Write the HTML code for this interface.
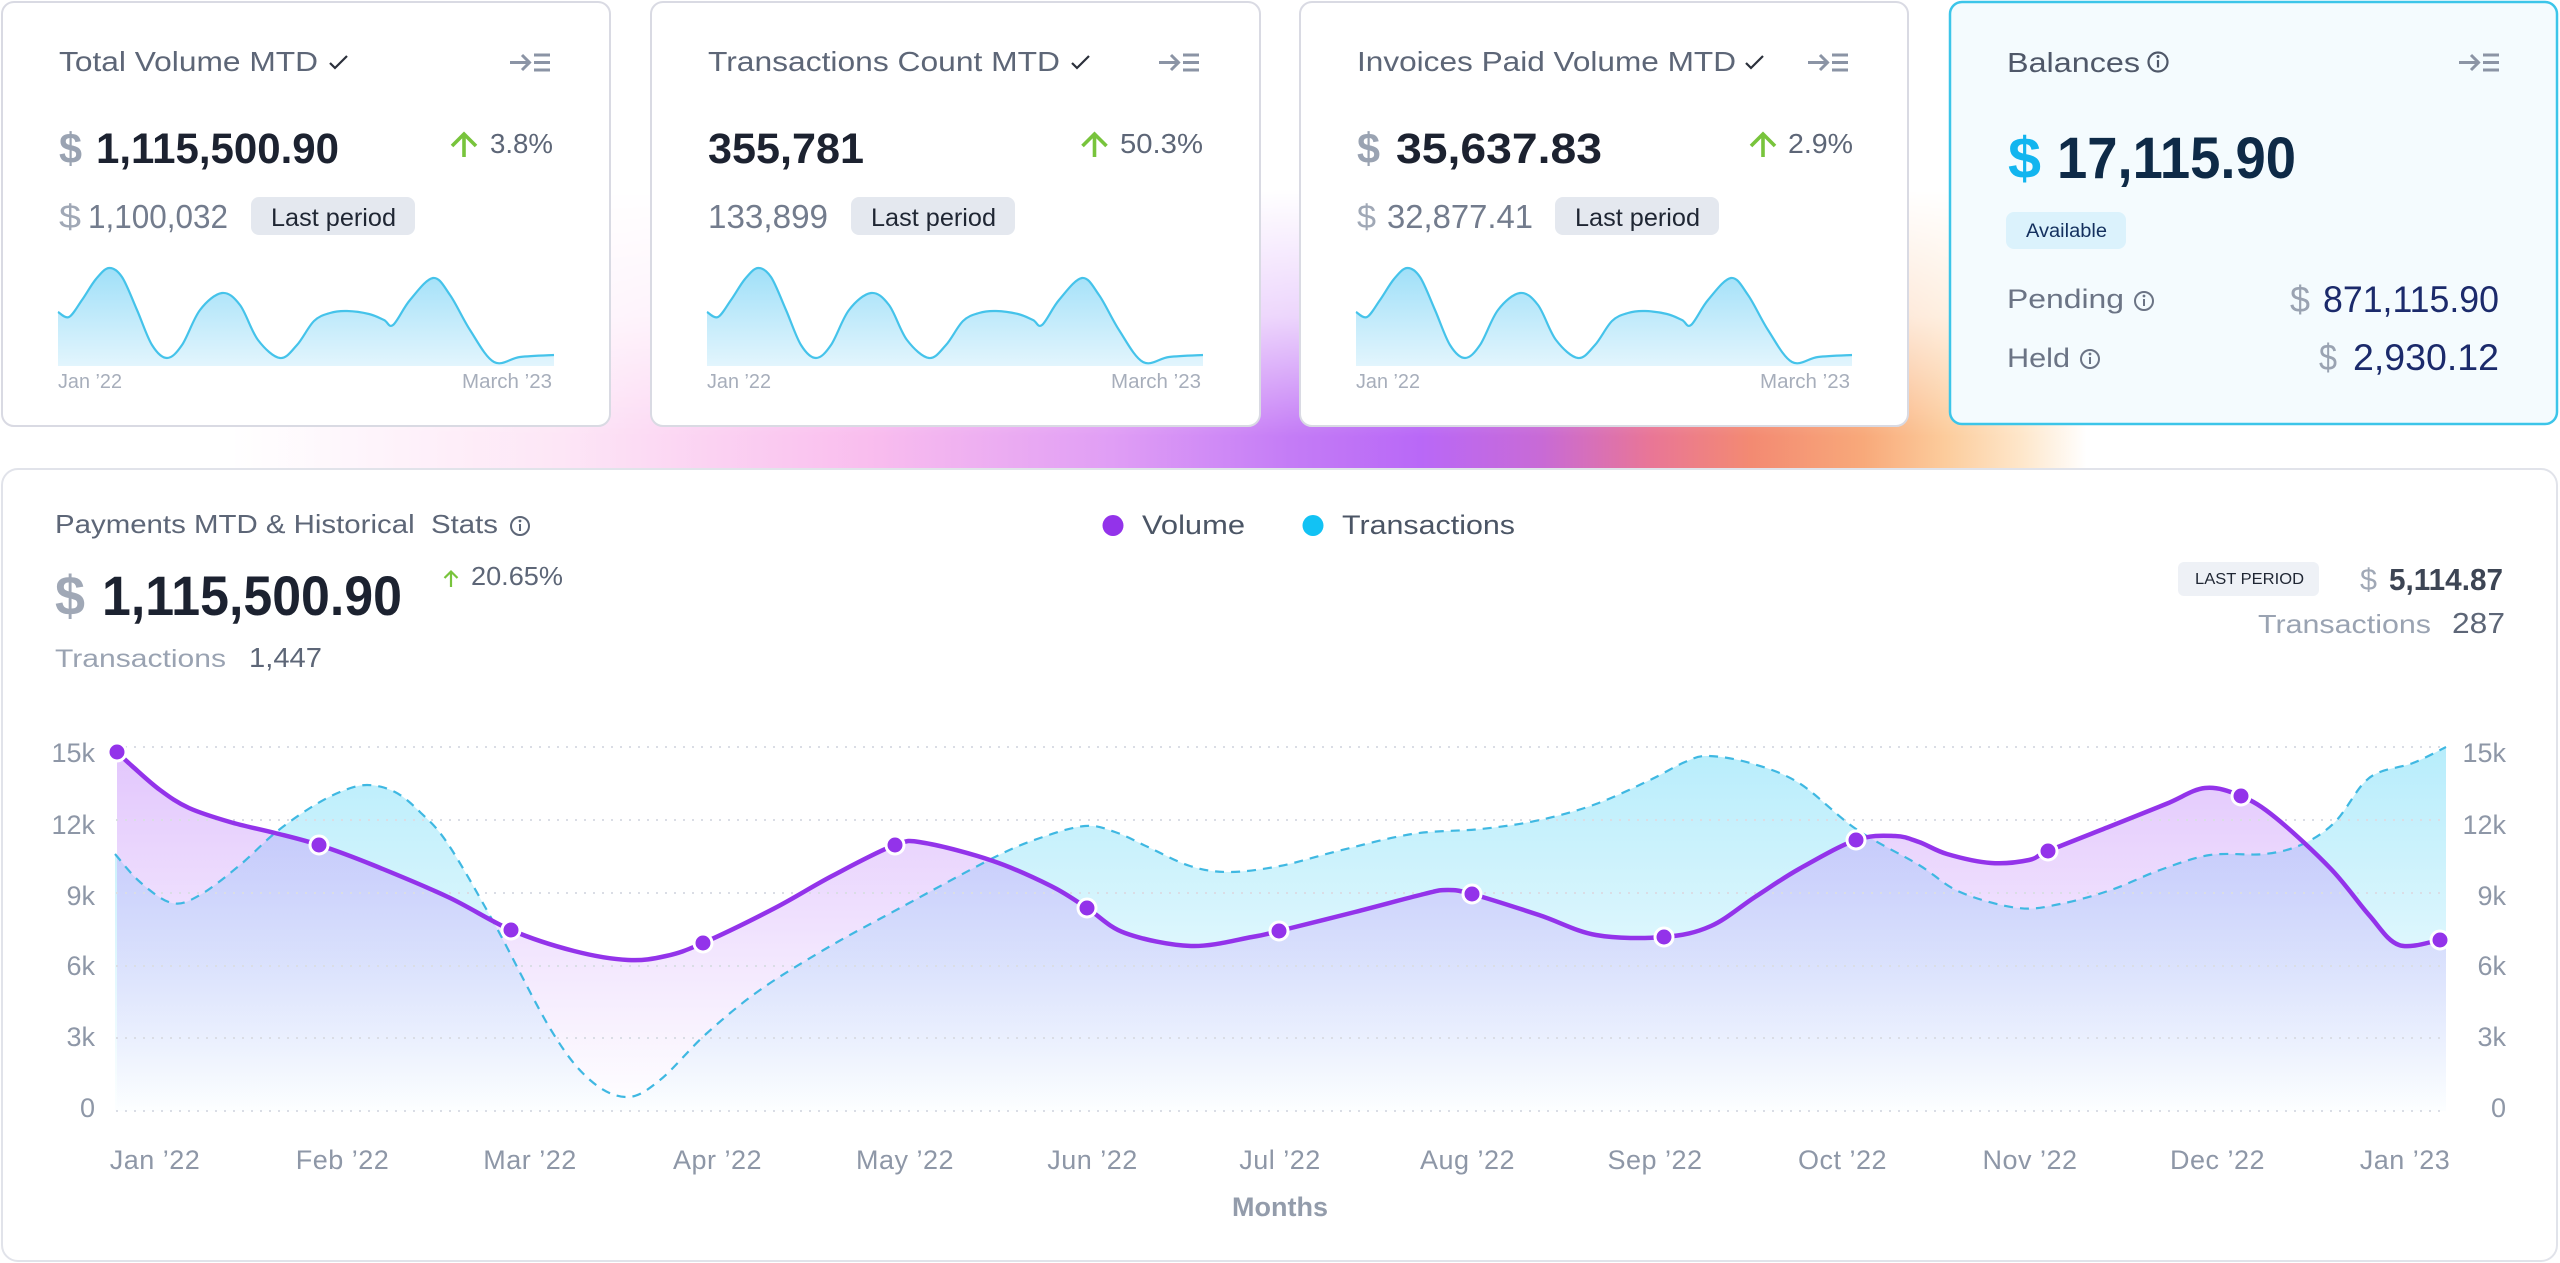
<!DOCTYPE html>
<html><head><meta charset="utf-8"><title>Payments Dashboard</title>
<style>
html,body{margin:0;padding:0;background:#ffffff;width:2560px;height:1263px;overflow:hidden;}
svg{display:block;}
text{font-family:"Liberation Sans",Arial,sans-serif;}
.b{font-weight:bold;}
</style></head><body>
<svg width="2560" height="1263" viewBox="0 0 2560 1263" xmlns="http://www.w3.org/2000/svg">
<defs>
<linearGradient id="gH" gradientUnits="userSpaceOnUse" x1="0" y1="0" x2="2560" y2="0">
<stop offset="0.09" stop-color="#ffffff"/>
<stop offset="0.219" stop-color="#fde6f6"/>
<stop offset="0.340" stop-color="#f9bdee"/>
<stop offset="0.434" stop-color="#e09ef5"/>
<stop offset="0.504" stop-color="#c47cf6"/>
<stop offset="0.555" stop-color="#b968f7"/>
<stop offset="0.602" stop-color="#c86ad6"/>
<stop offset="0.645" stop-color="#e97696"/>
<stop offset="0.684" stop-color="#f38a72"/>
<stop offset="0.728" stop-color="#f8a97a"/>
<stop offset="0.760" stop-color="#fccc9c"/>
<stop offset="0.790" stop-color="#fee7cb"/>
<stop offset="0.815" stop-color="#ffffff"/>
</linearGradient>
<linearGradient id="gV" gradientUnits="userSpaceOnUse" x1="0" y1="190" x2="0" y2="470">
<stop offset="0" stop-color="#000000"/>
<stop offset="0.45" stop-color="#505050"/>
<stop offset="0.88" stop-color="#ffffff"/>
<stop offset="1" stop-color="#ffffff"/>
</linearGradient>
<mask id="mG" maskUnits="userSpaceOnUse" x="0" y="180" width="2560" height="300">
<rect x="0" y="180" width="2560" height="300" fill="url(#gV)"/>
</mask>
<linearGradient id="gS" gradientUnits="userSpaceOnUse" x1="0" y1="265" x2="0" y2="366">
<stop offset="0" stop-color="#9edff8"/>
<stop offset="1" stop-color="#e2f5fd"/>
</linearGradient>
<linearGradient id="gT" gradientUnits="userSpaceOnUse" x1="0" y1="747" x2="0" y2="1111">
<stop offset="0" stop-color="#7ddef8" stop-opacity="0.55"/>
<stop offset="1" stop-color="#7ddef8" stop-opacity="0.02"/>
</linearGradient>
<linearGradient id="gVo" gradientUnits="userSpaceOnUse" x1="0" y1="747" x2="0" y2="1111">
<stop offset="0" stop-color="#c48cfa" stop-opacity="0.5"/>
<stop offset="1" stop-color="#c48cfa" stop-opacity="0"/>
</linearGradient>
</defs>

<!-- glow -->
<rect x="0" y="180" width="2560" height="300" fill="url(#gH)" mask="url(#mG)"/>

<!-- top cards -->
<rect x="2" y="2" width="608" height="424" rx="12" fill="#ffffff" stroke="#d9dae3" stroke-width="2"/>
<rect x="651" y="2" width="609" height="424" rx="12" fill="#ffffff" stroke="#d9dae3" stroke-width="2"/>
<rect x="1300" y="2" width="608" height="424" rx="12" fill="#ffffff" stroke="#d9dae3" stroke-width="2"/>
<rect x="1950" y="2" width="607" height="422" rx="12" fill="#f4fbfe" stroke="#3cc5e9" stroke-width="2.5"/>

<!-- big card -->
<rect x="2" y="469" width="2555" height="792" rx="16" fill="#ffffff" stroke="#e1e3ea" stroke-width="2"/>

<!-- header icons -->
<g stroke="#8b94a5" stroke-width="3" fill="none">
<path d="M510,62.5 H529 M522,55 L529.5,62.5 L522,70 M534,55 H550 M534,62.5 H550 M534,70 H550"/>
<path transform="translate(649,0)" d="M510,62.5 H529 M522,55 L529.5,62.5 L522,70 M534,55 H550 M534,62.5 H550 M534,70 H550"/>
<path transform="translate(1298,0)" d="M510,62.5 H529 M522,55 L529.5,62.5 L522,70 M534,55 H550 M534,62.5 H550 M534,70 H550"/>
<path transform="translate(1949,0)" d="M510,62.5 H529 M522,55 L529.5,62.5 L522,70 M534,55 H550 M534,62.5 H550 M534,70 H550"/>
</g>

<!-- check marks -->
<g stroke="#2b303b" stroke-width="2.2" fill="none">
<path d="M330,63 l5,5 l12,-12"/>
<path d="M1072,63 l5,5 l12,-12"/>
<path d="M1746,63 l5,5 l12,-12"/>
</g>

<!-- green arrows -->
<g stroke="#78c43c" stroke-width="3.6" fill="none">
<path d="M464,157 V135 M452,146 L464,134 L476,146"/>
<path d="M1094.5,157 V135 M1082.5,146 L1094.5,134 L1106.5,146"/>
<path d="M1763,157 V135 M1751,146 L1763,134 L1775,146"/>
</g>

<!-- CARD 1 -->
<text x="59" y="71" font-size="28" fill="#5d6677" textLength="259" lengthAdjust="spacingAndGlyphs">Total Volume MTD</text>
<text x="59" y="163" font-size="43" class="b" fill="#9aa3b2" textLength="23" lengthAdjust="spacingAndGlyphs">$</text>
<text x="96" y="163" font-size="43" class="b" fill="#1c2230" textLength="243" lengthAdjust="spacingAndGlyphs">1,115,500.90</text>
<text x="490" y="153" font-size="28" fill="#5d6677" textLength="63" lengthAdjust="spacingAndGlyphs">3.8%</text>
<text x="59" y="228" font-size="33" fill="#a0a8b6" textLength="22" lengthAdjust="spacingAndGlyphs">$</text>
<text x="88" y="228" font-size="33" fill="#737c8d" textLength="140" lengthAdjust="spacingAndGlyphs">1,100,032</text>
<rect x="251" y="197" width="164" height="38" rx="8" fill="#e4e8ef"/>
<text x="271" y="226" font-size="25" fill="#1f2633" textLength="125" lengthAdjust="spacingAndGlyphs">Last period</text>
<text x="58" y="388" font-size="20" fill="#a7aebb" textLength="64" lengthAdjust="spacingAndGlyphs">Jan &#8217;22</text>
<text x="462" y="388" font-size="20" fill="#a7aebb" textLength="90" lengthAdjust="spacingAndGlyphs">March &#8217;23</text>

<!-- CARD 2 -->
<text x="708" y="71" font-size="28" fill="#5d6677" textLength="352" lengthAdjust="spacingAndGlyphs">Transactions Count MTD</text>
<text x="708" y="163" font-size="43" class="b" fill="#1c2230" textLength="156" lengthAdjust="spacingAndGlyphs">355,781</text>
<text x="1120" y="153" font-size="28" fill="#5d6677" textLength="83" lengthAdjust="spacingAndGlyphs">50.3%</text>
<text x="708" y="228" font-size="33" fill="#737c8d" textLength="120" lengthAdjust="spacingAndGlyphs">133,899</text>
<rect x="851" y="197" width="164" height="38" rx="8" fill="#e4e8ef"/>
<text x="871" y="226" font-size="25" fill="#1f2633" textLength="125" lengthAdjust="spacingAndGlyphs">Last period</text>
<text x="707" y="388" font-size="20" fill="#a7aebb" textLength="64" lengthAdjust="spacingAndGlyphs">Jan &#8217;22</text>
<text x="1111" y="388" font-size="20" fill="#a7aebb" textLength="90" lengthAdjust="spacingAndGlyphs">March &#8217;23</text>

<!-- CARD 3 -->
<text x="1357" y="71" font-size="28" fill="#5d6677" textLength="379" lengthAdjust="spacingAndGlyphs">Invoices Paid Volume MTD</text>
<text x="1357" y="163" font-size="43" class="b" fill="#9aa3b2" textLength="23" lengthAdjust="spacingAndGlyphs">$</text>
<text x="1396" y="163" font-size="43" class="b" fill="#1c2230" textLength="206" lengthAdjust="spacingAndGlyphs">35,637.83</text>
<text x="1788" y="153" font-size="28" fill="#5d6677" textLength="65" lengthAdjust="spacingAndGlyphs">2.9%</text>
<text x="1357" y="228" font-size="33" fill="#a0a8b6" textLength="19" lengthAdjust="spacingAndGlyphs">$</text>
<text x="1387" y="228" font-size="33" fill="#737c8d" textLength="146" lengthAdjust="spacingAndGlyphs">32,877.41</text>
<rect x="1555" y="197" width="164" height="38" rx="8" fill="#e4e8ef"/>
<text x="1575" y="226" font-size="25" fill="#1f2633" textLength="125" lengthAdjust="spacingAndGlyphs">Last period</text>
<text x="1356" y="388" font-size="20" fill="#a7aebb" textLength="64" lengthAdjust="spacingAndGlyphs">Jan &#8217;22</text>
<text x="1760" y="388" font-size="20" fill="#a7aebb" textLength="90" lengthAdjust="spacingAndGlyphs">March &#8217;23</text>

<!-- sparklines -->
<g>
<path class="smf" fill="url(#gS)" d="M58,312 L69,317 L82,300 L96,279 L109,268 L122,277 L137,310 L152,345 L167,358 L182,345 L200,310 L222,293 L240,305 L258,340 L280,358 L297,345 L314,321 L330,313 L347,311 L369,314 L384,320 L393,325 L410,300 L433,278 L450,295 L470,330 L494,362 L520,357 L554,355 L554,366 L58,366 Z"/>
<path class="sm" fill="none" stroke="#45c3ea" stroke-width="2.2" d="M58,312 L69,317 L82,300 L96,279 L109,268 L122,277 L137,310 L152,345 L167,358 L182,345 L200,310 L222,293 L240,305 L258,340 L280,358 L297,345 L314,321 L330,313 L347,311 L369,314 L384,320 L393,325 L410,300 L433,278 L450,295 L470,330 L494,362 L520,357 L554,355"/>
</g>
<g transform="translate(649,0)">
<path class="smf" fill="url(#gS)" d="M58,312 L69,317 L82,300 L96,279 L109,268 L122,277 L137,310 L152,345 L167,358 L182,345 L200,310 L222,293 L240,305 L258,340 L280,358 L297,345 L314,321 L330,313 L347,311 L369,314 L384,320 L393,325 L410,300 L433,278 L450,295 L470,330 L494,362 L520,357 L554,355 L554,366 L58,366 Z"/>
<path class="sm" fill="none" stroke="#45c3ea" stroke-width="2.2" d="M58,312 L69,317 L82,300 L96,279 L109,268 L122,277 L137,310 L152,345 L167,358 L182,345 L200,310 L222,293 L240,305 L258,340 L280,358 L297,345 L314,321 L330,313 L347,311 L369,314 L384,320 L393,325 L410,300 L433,278 L450,295 L470,330 L494,362 L520,357 L554,355"/>
</g>
<g transform="translate(1298,0)">
<path class="smf" fill="url(#gS)" d="M58,312 L69,317 L82,300 L96,279 L109,268 L122,277 L137,310 L152,345 L167,358 L182,345 L200,310 L222,293 L240,305 L258,340 L280,358 L297,345 L314,321 L330,313 L347,311 L369,314 L384,320 L393,325 L410,300 L433,278 L450,295 L470,330 L494,362 L520,357 L554,355 L554,366 L58,366 Z"/>
<path class="sm" fill="none" stroke="#45c3ea" stroke-width="2.2" d="M58,312 L69,317 L82,300 L96,279 L109,268 L122,277 L137,310 L152,345 L167,358 L182,345 L200,310 L222,293 L240,305 L258,340 L280,358 L297,345 L314,321 L330,313 L347,311 L369,314 L384,320 L393,325 L410,300 L433,278 L450,295 L470,330 L494,362 L520,357 L554,355"/>
</g>

<!-- CARD 4 Balances -->
<text x="2007" y="72" font-size="28" fill="#4f5869" textLength="133" lengthAdjust="spacingAndGlyphs">Balances</text>
<g stroke="#4f5869" stroke-width="2.2" fill="none">
<circle cx="2158" cy="62" r="9.5"/>
<line x1="2158" y1="60" x2="2158" y2="67.5"/>
</g>
<circle cx="2158" cy="56.5" r="1.5" fill="#4f5869"/>
<text x="2008" y="178" font-size="58" class="b" fill="#12b5ef" textLength="33" lengthAdjust="spacingAndGlyphs">$</text>
<text x="2057" y="178" font-size="58" class="b" fill="#0e2a47" textLength="239" lengthAdjust="spacingAndGlyphs">17,115.90</text>
<rect x="2006" y="212" width="120" height="37" rx="8" fill="#dbf2fc"/>
<text x="2026" y="237" font-size="19" fill="#14305e" textLength="81" lengthAdjust="spacingAndGlyphs">Available</text>
<text x="2007" y="308" font-size="27" fill="#6b7485" textLength="117" lengthAdjust="spacingAndGlyphs">Pending</text>
<g stroke="#6b7485" stroke-width="2" fill="none">
<circle cx="2144" cy="301" r="9"/>
<line x1="2144" y1="299" x2="2144" y2="306"/>
<circle cx="2090" cy="359" r="9"/>
<line x1="2090" y1="357" x2="2090" y2="364"/>
</g>
<circle cx="2144" cy="296" r="1.4" fill="#6b7485"/>
<circle cx="2090" cy="354" r="1.4" fill="#6b7485"/>
<text x="2290" y="312" font-size="37" fill="#9aa3b2" textLength="20" lengthAdjust="spacingAndGlyphs">$</text>
<text x="2323" y="312" font-size="37" fill="#1b2a6b" textLength="176" lengthAdjust="spacingAndGlyphs">871,115.90</text>
<text x="2007" y="367" font-size="27" fill="#6b7485" textLength="63" lengthAdjust="spacingAndGlyphs">Held</text>
<text x="2319" y="370" font-size="37" fill="#9aa3b2" textLength="18" lengthAdjust="spacingAndGlyphs">$</text>
<text x="2353" y="370" font-size="37" fill="#1b2a6b" textLength="146" lengthAdjust="spacingAndGlyphs">2,930.12</text>

<!-- CHART HEADER -->
<text x="55" y="533" font-size="26" fill="#5d6677" textLength="443" lengthAdjust="spacingAndGlyphs" style="white-space:pre">Payments MTD &amp; Historical  Stats</text>
<g stroke="#5d6677" stroke-width="2" fill="none">
<circle cx="520" cy="526" r="9"/>
<line x1="520" y1="524" x2="520" y2="531"/>
</g>
<circle cx="520" cy="521" r="1.4" fill="#5d6677"/>
<text x="55" y="615" font-size="56" class="b" fill="#a0a8b6" textLength="30" lengthAdjust="spacingAndGlyphs">$</text>
<text x="102" y="615" font-size="56" class="b" fill="#1c2230" textLength="300" lengthAdjust="spacingAndGlyphs">1,115,500.90</text>
<path d="M451,587 V571.5 M444.5,578 L451,571.5 L457.5,578" stroke="#78c43c" stroke-width="2.2" fill="none"/>
<text x="471" y="585" font-size="26" fill="#5d6677" textLength="92" lengthAdjust="spacingAndGlyphs">20.65%</text>
<text x="55" y="667" font-size="25" fill="#9aa3b2" textLength="171" lengthAdjust="spacingAndGlyphs">Transactions</text>
<text x="249" y="667" font-size="28" fill="#5d6677" textLength="73" lengthAdjust="spacingAndGlyphs">1,447</text>

<!-- legend -->
<circle cx="1113" cy="525.5" r="10.5" fill="#9333ea"/>
<text x="1142" y="534" font-size="27" fill="#4b5565" textLength="103" lengthAdjust="spacingAndGlyphs">Volume</text>
<circle cx="1313" cy="525.5" r="10.5" fill="#12c2f4"/>
<text x="1342" y="534" font-size="27" fill="#4b5565" textLength="173" lengthAdjust="spacingAndGlyphs">Transactions</text>

<!-- right header -->
<rect x="2178" y="562" width="141" height="34" rx="6" fill="#eef1f6"/>
<text x="2195" y="584" font-size="16" fill="#1f2633" textLength="109" lengthAdjust="spacingAndGlyphs">LAST PERIOD</text>
<text x="2360" y="590" font-size="31" fill="#a0a8b6" textLength="17" lengthAdjust="spacingAndGlyphs">$</text>
<text x="2389" y="590" font-size="31" class="b" fill="#3d4554" textLength="114" lengthAdjust="spacingAndGlyphs">5,114.87</text>
<text x="2258" y="633" font-size="26" fill="#9aa3b2" textLength="173" lengthAdjust="spacingAndGlyphs">Transactions</text>
<text x="2452" y="633" font-size="29" fill="#5d6677" textLength="53" lengthAdjust="spacingAndGlyphs">287</text>

<!-- CHART fills -->
<path class="smf" fill="url(#gT)" d="M115,854 L140,882 L172,903 L200,895 L240,865 L275,833 L310,808 L340,792 L367,785 L395,792 L420,812 L448,844 L494,923 L551,1030 L590,1080 L627,1097 L660,1080 L706,1034 L760,990 L827,948 L900,908 L993,858 L1040,838 L1085,826 L1115,832 L1148,847 L1190,866 L1229,872 L1280,866 L1338,851 L1412,834 L1481,829 L1540,820 L1596,804 L1650,780 L1685,762 L1708,756 L1750,763 L1799,783 L1856,829 L1919,865 L1960,892 L2018,908 L2060,904 L2111,890 L2160,870 L2210,855 L2265,854 L2303,844 L2335,822 L2362,785 L2380,772 L2413,763 L2446,747 L2446,1111 L115,1111 Z"/>
<path class="smf" fill="url(#gVo)" d="M117,752 L132,766 L160,790 L189,808 L230,822 L275,833 L319,845 L373,865 L448,897 L511,930 L574,951 L628,960 L666,956 L703,943 L775,908 L832,876 L895,845 L925,843 L993,861 L1051,886 L1087,908 L1125,933 L1191,946 L1252,937 L1279,931 L1355,912 L1424,894 L1447,890 L1472,894 L1539,915 L1596,935 L1664,937 L1711,926 L1755,897 L1799,869 L1856,840 L1895,836 L1919,842 L1947,854 L1991,863 L2029,860 L2048,851 L2111,826 L2166,804 L2205,788 L2241,796 L2276,818 L2331,869 L2369,915 L2399,945 L2440,940 L2446,940 L2446,1111 L117,1111 Z"/>

<!-- grid -->
<g stroke="#dadde5" stroke-width="2" stroke-dasharray="2 7">
<line x1="116" y1="747" x2="2446" y2="747"/>
<line x1="116" y1="820" x2="2446" y2="820"/>
<line x1="116" y1="893" x2="2446" y2="893"/>
<line x1="116" y1="966" x2="2446" y2="966"/>
<line x1="116" y1="1038" x2="2446" y2="1038"/>
<line x1="116" y1="1111" x2="2446" y2="1111"/>
</g>

<!-- lines -->
<path class="sm" fill="none" stroke="#3fb8e2" stroke-width="2.2" stroke-dasharray="9 7" d="M115,854 L140,882 L172,903 L200,895 L240,865 L275,833 L310,808 L340,792 L367,785 L395,792 L420,812 L448,844 L494,923 L551,1030 L590,1080 L627,1097 L660,1080 L706,1034 L760,990 L827,948 L900,908 L993,858 L1040,838 L1085,826 L1115,832 L1148,847 L1190,866 L1229,872 L1280,866 L1338,851 L1412,834 L1481,829 L1540,820 L1596,804 L1650,780 L1685,762 L1708,756 L1750,763 L1799,783 L1856,829 L1919,865 L1960,892 L2018,908 L2060,904 L2111,890 L2160,870 L2210,855 L2265,854 L2303,844 L2335,822 L2362,785 L2380,772 L2413,763 L2446,747"/>
<path class="sm" fill="none" stroke="#9333ea" stroke-width="4.5" stroke-linecap="round" stroke-linejoin="round" d="M117,752 L132,766 L160,790 L189,808 L230,822 L275,833 L319,845 L373,865 L448,897 L511,930 L574,951 L628,960 L666,956 L703,943 L775,908 L832,876 L895,845 L925,843 L993,861 L1051,886 L1087,908 L1125,933 L1191,946 L1252,937 L1279,931 L1355,912 L1424,894 L1447,890 L1472,894 L1539,915 L1596,935 L1664,937 L1711,926 L1755,897 L1799,869 L1856,840 L1895,836 L1919,842 L1947,854 L1991,863 L2029,860 L2048,851 L2111,826 L2166,804 L2205,788 L2241,796 L2276,818 L2331,869 L2369,915 L2399,945 L2440,940"/>

<!-- markers -->
<g fill="#9333ea" stroke="#ffffff" stroke-width="3">
<circle cx="117" cy="752" r="9"/>
<circle cx="319" cy="845" r="9"/>
<circle cx="511" cy="930" r="9"/>
<circle cx="703" cy="943" r="9"/>
<circle cx="895" cy="845" r="9"/>
<circle cx="1087" cy="908" r="9"/>
<circle cx="1279" cy="931" r="9"/>
<circle cx="1472" cy="894" r="9"/>
<circle cx="1664" cy="937" r="9"/>
<circle cx="1856" cy="840" r="9"/>
<circle cx="2048" cy="851" r="9"/>
<circle cx="2241" cy="796" r="9"/>
<circle cx="2440" cy="940" r="9"/>
</g>

<!-- y labels -->
<g font-size="27" fill="#8e97a7" text-anchor="end">
<text x="95" y="762">15k</text>
<text x="95" y="834">12k</text>
<text x="95" y="905">9k</text>
<text x="95" y="975">6k</text>
<text x="95" y="1046">3k</text>
<text x="95" y="1117">0</text>
<text x="2506" y="762">15k</text>
<text x="2506" y="834">12k</text>
<text x="2506" y="905">9k</text>
<text x="2506" y="975">6k</text>
<text x="2506" y="1046">3k</text>
<text x="2506" y="1117">0</text>
</g>

<!-- x labels -->
<g font-size="27" fill="#8e97a7" text-anchor="middle" letter-spacing="0.5">
<text x="155" y="1169">Jan &#8217;22</text>
<text x="342.5" y="1169">Feb &#8217;22</text>
<text x="530" y="1169">Mar &#8217;22</text>
<text x="717.5" y="1169">Apr &#8217;22</text>
<text x="905" y="1169">May &#8217;22</text>
<text x="1092.5" y="1169">Jun &#8217;22</text>
<text x="1280" y="1169">Jul &#8217;22</text>
<text x="1467.5" y="1169">Aug &#8217;22</text>
<text x="1655" y="1169">Sep &#8217;22</text>
<text x="1842.5" y="1169">Oct &#8217;22</text>
<text x="2030" y="1169">Nov &#8217;22</text>
<text x="2217.5" y="1169">Dec &#8217;22</text>
<text x="2405" y="1169">Jan &#8217;23</text>
</g>
<text x="1280" y="1216" font-size="27" class="b" fill="#939cab" text-anchor="middle">Months</text>
</svg>
<script>
(function(){
function cr(p){var d='M'+p[0][0]+','+p[0][1];for(var i=0;i<p.length-1;i++){var p0=p[i>0?i-1:i],p1=p[i],p2=p[i+1],p3=p[i+2<p.length?i+2:i+1];d+=' C'+(p1[0]+(p2[0]-p0[0])/6).toFixed(1)+','+(p1[1]+(p2[1]-p0[1])/6).toFixed(1)+' '+(p2[0]-(p3[0]-p1[0])/6).toFixed(1)+','+(p2[1]-(p3[1]-p1[1])/6).toFixed(1)+' '+p2[0]+','+p2[1];}return d;}
function pts(d){return d.replace(/[MLZ]/g,' ').trim().split(/\s+/).map(function(s){return s.split(',').map(Number);});}
try{
var a=document.querySelectorAll('path.sm');for(var i=0;i<a.length;i++){a[i].setAttribute('d',cr(pts(a[i].getAttribute('d'))));}
var b=document.querySelectorAll('path.smf');for(var j=0;j<b.length;j++){var p=pts(b[j].getAttribute('d'));var t=p.splice(p.length-2,2);b[j].setAttribute('d',cr(p)+' L'+t[0].join(',')+' L'+t[1].join(',')+' Z');}
}catch(e){}
})();
</script>
</body></html>
